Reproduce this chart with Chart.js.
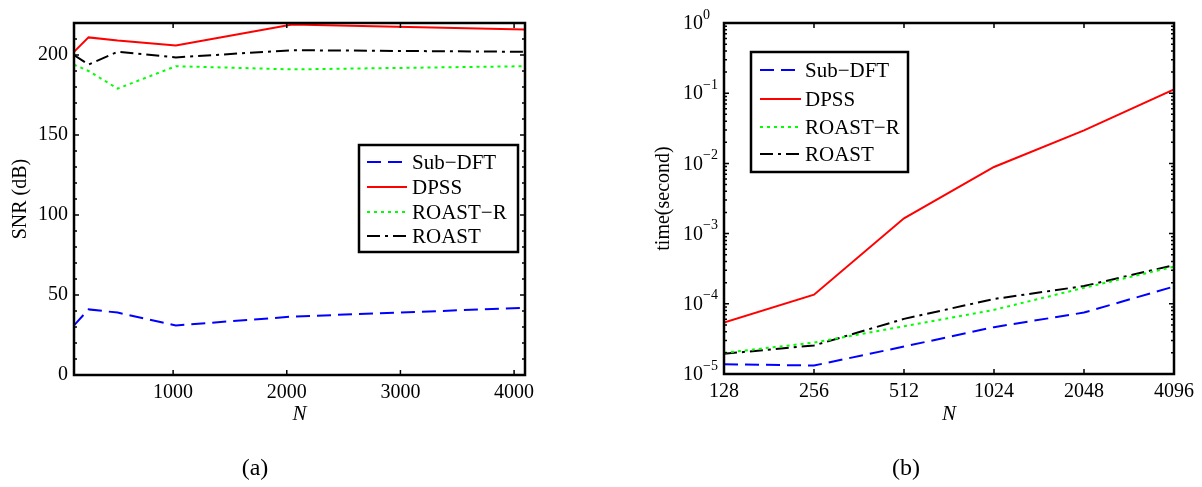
<!DOCTYPE html>
<html><head><meta charset="utf-8">
<script src="https://cdn.jsdelivr.net/npm/chart.js@4.4.1/dist/chart.umd.min.js"></script>
<style>
html,body{margin:0;padding:0;background:#fff;}
#wrap{position:relative;width:1202px;height:487px;overflow:hidden;background:#fff;}
canvas{position:absolute;left:0;top:0;}
.cap{position:absolute;top:452px;font-family:"Liberation Serif",serif;font-size:24px;width:60px;text-align:center;line-height:30px;}
</style></head><body>
<div id="wrap">
<canvas id="c1" width="1202" height="487"></canvas>
<canvas id="c2" width="1202" height="487"></canvas>
<div class="cap" style="left:225px">(a)</div>
<div class="cap" style="left:876px">(b)</div>
</div>
<script>
// ---- data ----
const N = [128, 256, 512, 1024, 2048, 4096];
const seriesNames = ['Sub\u2212DFT', 'DPSS', 'ROAST\u2212R', 'ROAST'];
const snrSubDFT = [31, 41, 39, 31, 36.5, 42];
const snrDPSS   = [202, 211, 209, 206, 219, 216];
const snrROASTR = [194, 190, 179, 193, 191, 193];
const snrROAST  = [200, 194, 202, 198.5, 203, 202];
const timeSubDFT = [1.38e-5, 1.32e-5, 2.46e-5, 4.65e-5, 7.5e-5, 1.76e-4];
const timeDPSS   = [5.4e-5, 1.35e-4, 1.65e-3, 8.9e-3, 2.96e-2, 0.113];
const timeROASTR = [2.0e-5, 2.8e-5, 4.8e-5, 8.2e-5, 1.69e-4, 3.38e-4];
const timeROAST  = [1.94e-5, 2.55e-5, 6.1e-5, 1.17e-4, 1.79e-4, 3.56e-4];
const snrTicks = [0, 50, 100, 150, 200];
const snrMinor = [10,20,30,40,60,70,80,90,110,120,130,140,160,170,180,190,210];
const nTicksA = [1000, 2000, 3000, 4000];
const timeTicks = [1e-5, 1e-4, 1e-3, 1e-2, 1e-1, 1];
const timeExps = ['\u22125', '\u22124', '\u22123', '\u22122', '\u22121', '0'];

// ---- styles ----
const colors = ['#0000ff', '#ff0000', '#00ff00', '#000000'];
const dashes = [[14, 7], [], [3, 4], [13, 5, 3, 5]];
const SERIF = '"Liberation Serif", "DejaVu Serif", serif';

Chart.defaults.font.family = SERIF;
Chart.defaults.color = '#000';

function mkSets(arrs) {
  return arrs.map((a, i) => ({
    label: seriesNames[i],
    data: a.map((v, j) => ({ x: N[j], y: v })),
    borderColor: colors[i],
    backgroundColor: colors[i],
    borderDash: dashes[i],
    borderWidth: 2,
    borderCapStyle: 'butt',
    pointRadius: 0,
    tension: 0,
    fill: false
  }));
}

function framePlugin(cfg) {
  return {
    id: 'frame',
    afterDraw(chart) {
      const ctx = chart.ctx, a = chart.chartArea;
      const xs = chart.scales.x, ys = chart.scales.y;
      ctx.save();
      ctx.strokeStyle = '#000';
      ctx.lineWidth = 1.5;
      ctx.setLineDash([]);
      ctx.beginPath();
      cfg.xMajor.forEach(v => {
        const p = xs.getPixelForValue(v);
        ctx.moveTo(p, a.bottom); ctx.lineTo(p, a.bottom - 5);
        ctx.moveTo(p, a.top); ctx.lineTo(p, a.top + 5);
      });
      cfg.yMajor.forEach(v => {
        const p = ys.getPixelForValue(v);
        ctx.moveTo(a.left, p); ctx.lineTo(a.left + 5, p);
        ctx.moveTo(a.right, p); ctx.lineTo(a.right - 5, p);
      });
      cfg.yMinor.forEach(v => {
        const p = ys.getPixelForValue(v);
        ctx.moveTo(a.left, p); ctx.lineTo(a.left + 3, p);
        ctx.moveTo(a.right, p); ctx.lineTo(a.right - 3, p);
      });
      ctx.stroke();
      ctx.lineWidth = 2.5;
      ctx.strokeRect(a.left, a.top, a.right - a.left, a.bottom - a.top);
      ctx.restore();
    }
  };
}

function legendPlugin(L) {
  return {
    id: 'boxlegend',
    afterDatasetsDraw(chart) {
      const ctx = chart.ctx;
      ctx.save();
      ctx.fillStyle = '#fff';
      ctx.fillRect(L.x0, L.y0, L.x1 - L.x0, L.y1 - L.y0);
      ctx.strokeStyle = '#000';
      ctx.lineWidth = 2.5;
      ctx.setLineDash([]);
      ctx.strokeRect(L.x0, L.y0, L.x1 - L.x0, L.y1 - L.y0);
      chart.data.datasets.forEach((ds, i) => {
        const y = L.rows[i];
        ctx.strokeStyle = ds.borderColor;
        ctx.lineWidth = 2;
        ctx.lineCap = 'butt';
        ctx.setLineDash(ds.borderDash);
        ctx.beginPath();
        ctx.moveTo(L.lx0, y); ctx.lineTo(L.lx1, y);
        ctx.stroke();
        ctx.setLineDash([]);
        ctx.fillStyle = '#000';
        ctx.font = '21px ' + SERIF;
        ctx.textAlign = 'left';
        ctx.textBaseline = 'middle';
        ctx.fillText(ds.label, L.tx, y + 1);
      });
      ctx.restore();
    }
  };
}

// ---- chart (a) ----
new Chart(document.getElementById('c1'), {
  type: 'line',
  data: { datasets: mkSets([snrSubDFT, snrDPSS, snrROASTR, snrROAST]) },
  options: {
    responsive: false, animation: false, devicePixelRatio: 1,
    layout: { padding: { left: 0, top: 23, right: 1202 - 525, bottom: 0 } },
    plugins: { legend: { display: false }, tooltip: { enabled: false } },
    scales: {
      x: {
        type: 'linear', min: 128, max: 4096,
        afterBuildTicks: s => { s.ticks = nTicksA.map(v => ({ value: v })); },
        afterFit: s => { s.height = 487 - 375; },
        grid: { display: false, drawTicks: false },
        border: { display: false },
        ticks: { font: { size: 20 }, padding: 6, maxRotation: 0, callback: v => String(v) },
        title: { display: true, text: 'N', font: { size: 21, style: 'italic' }, padding: { top: 0, bottom: 60 } }
      },
      y: {
        type: 'linear', min: 0, max: 220,
        afterBuildTicks: s => { s.ticks = snrTicks.map(v => ({ value: v })); },
        afterFit: s => { s.width = 74; },
        grid: { display: false, drawTicks: false },
        border: { display: false },
        ticks: { font: { size: 20 }, padding: 6, callback: v => String(v) },
        title: { display: true, text: 'SNR (dB)', font: { size: 20 }, padding: { top: 9, bottom: 0 } }
      }
    }
  },
  plugins: [
    legendPlugin({ x0: 359, x1: 518, y0: 145, y1: 252, rows: [162, 187, 212, 236], lx0: 367, lx1: 407, tx: 412 }),
    framePlugin({ xMajor: nTicksA, yMajor: snrTicks, yMinor: snrMinor })
  ]
});

// ---- chart (b) ----
const logMinor = [];
for (let d = -5; d <= -1; d++) for (let m = 2; m <= 9; m++) logMinor.push(m * Math.pow(10, d));

const expLabels = {
  id: 'expLabels',
  afterDraw(chart) {
    const ctx = chart.ctx, ys = chart.scales.y;
    ctx.save();
    ctx.fillStyle = '#000';
    ctx.textBaseline = 'middle';
    ctx.textAlign = 'left';
    timeTicks.forEach((v, i) => {
      const p = ys.getPixelForValue(v);
      ctx.font = '20px ' + SERIF;
      const w = ctx.measureText('10').width;
      ctx.fillText('10', 683, p + 1);
      ctx.font = '14px ' + SERIF;
      ctx.fillText(timeExps[i], 683 + w, p - 8);
    });
    ctx.restore();
  }
};

new Chart(document.getElementById('c2'), {
  type: 'line',
  data: { datasets: mkSets([timeSubDFT, timeDPSS, timeROASTR, timeROAST]) },
  options: {
    responsive: false, animation: false, devicePixelRatio: 1,
    layout: { padding: { left: 640, top: 23, right: 1202 - 1174, bottom: 0 } },
    plugins: { legend: { display: false }, tooltip: { enabled: false } },
    scales: {
      x: {
        type: 'logarithmic', min: 128, max: 4096,
        afterBuildTicks: s => { s.ticks = N.map(v => ({ value: v })); },
        afterFit: s => { s.height = 487 - 374; },
        grid: { display: false, drawTicks: false },
        border: { display: false },
        ticks: { font: { size: 20 }, padding: 6, maxRotation: 0, autoSkip: false, callback: v => String(v) },
        title: { display: true, text: 'N', font: { size: 21, style: 'italic' }, padding: { top: 0, bottom: 60 } }
      },
      y: {
        type: 'logarithmic', min: 1e-5, max: 1,
        afterBuildTicks: s => { s.ticks = timeTicks.map(v => ({ value: v })); },
        afterFit: s => { s.width = 84; },
        grid: { display: false, drawTicks: false },
        border: { display: false },
        ticks: { display: false },
        title: { display: true, text: 'time(second)', font: { size: 20 }, padding: { top: 12, bottom: 0 } }
      }
    }
  },
  plugins: [
    legendPlugin({ x0: 751, x1: 908, y0: 52, y1: 172, rows: [70, 99, 127, 154], lx0: 760, lx1: 801, tx: 805 }),
    framePlugin({ xMajor: N, yMajor: timeTicks, yMinor: logMinor }),
    expLabels
  ]
});
</script>
</body></html>
